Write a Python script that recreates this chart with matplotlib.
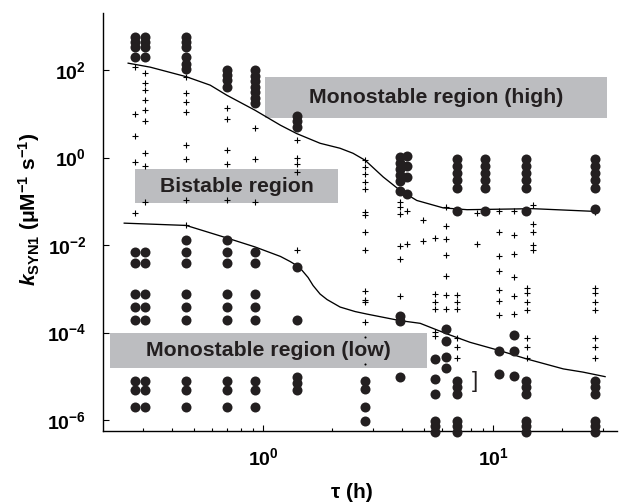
import numpy as np
import matplotlib
matplotlib.use("Agg")
import matplotlib.pyplot as plt
from matplotlib.ticker import LogLocator, NullLocator, NullFormatter
from matplotlib.patches import Rectangle

# fonts: Helvetica-like bold everywhere
plt.rcParams['font.family'] = ['Liberation Sans', 'DejaVu Sans']
plt.rcParams['font.weight'] = 'bold'
plt.rcParams['mathtext.fontset'] = 'custom'
plt.rcParams['mathtext.rm'] = 'Liberation Sans:bold'
plt.rcParams['mathtext.it'] = 'Liberation Sans:italic:bold'
plt.rcParams['mathtext.bf'] = 'Liberation Sans:bold'
plt.rcParams['mathtext.default'] = 'rm'

# --- data ---
# filled circles, column by column (tau in h, k in uM^-1 s^-1)
low_grid = [0.0069, 0.00387, 7.7e-4, 3.8e-4, 1.96e-4, 7.96e-6, 4.88e-6, 1.95e-6]
right_top = [0.916, 0.634, 0.438, 0.303, 0.199]
right_bot = [7.96e-6, 5.65e-6, 3.96e-6, 9.66e-7, 7.23e-7, 5.41e-7]

dot_cols_tau = [0.276, 0.307, 0.463, 0.695, 0.923, 1.40, 2.78, 3.94, 4.24,
                5.57, 6.25, 6.94, 9.26, 10.6, 12.3, 13.9, 27.8]
dot_cols_k = [
    [585, 450, 345, 199] + low_grid,
    [585, 450, 345, 199] + low_grid,
    [585, 450, 345, 199, 137, 105, 0.0128] + low_grid,
    [100, 76.8, 59.0, 41.5, 0.0128] + low_grid,
    [100, 74.8, 56.0, 41.9, 31.3, 23.5, 17.5] + low_grid,
    [8.85, 6.8, 4.95, 0.00313, 1.96e-4, 9.46e-6, 6.9e-6, 4.88e-6],
    [7.96e-6, 5.14e-6, 1.95e-6, 9.66e-7],
    [1.02, 0.741, 0.541, 0.394, 0.287, 0.169, 2.45e-4, 1.88e-4, 9.46e-6],
    [1.07, 0.634, 0.361, 0.150],
    [2.5e-5, 8.71e-6, 3.96e-6, 9.66e-7, 7.23e-7, 5.41e-7],
    [1.22e-4, 6.56e-5, 2.72e-5, 1.56e-5],
    right_top + [0.060] + right_bot,
    right_top + [0.060],
    [3.87e-5, 1.14e-5],
    [9.0e-5, 3.87e-5, 1.0e-5],
    right_top + [0.060] + right_bot,
    right_top + [0.068] + right_bot,
]

# plus marks, column by column
plus_cols_tau = [0.276, 0.307, 0.463, 0.695, 0.923, 1.40, 2.78, 3.94, 4.24,
                 4.95, 5.57, 6.25, 6.94, 8.50, 10.6, 12.3, 14.9, 14.1, 27.8]
right_plus = [1.02e-3, 8.25e-4, 4.94e-4, 3.37e-4, 7.69e-5, 4.79e-5, 2.64e-5]
plus_cols_k = [
    [119, 10.2, 3.08, 0.794, 0.0531],
    [84.0, 51.2, 36.1, 20.6, 12.6, 6.79, 1.28, 0.634, 0.0964],
    [70.4, 30.2, 18.8, 11.1, 1.92, 0.951, 0.105, 0.0293],
    [14.0, 7.55, 1.47, 0.730, 0.105],
    [4.88, 0.951, 0.0964],
    [2.49, 1.0, 0.703, 0.469, 0.00755],
    [0.869, 0.611, 0.416, 0.277, 0.195, 0.0569, 0.0491, 0.0198, 0.00783,
     8.83e-4, 5.6e-4, 4.9e-4, 1.74e-4],
    [0.0964, 0.0741, 0.0505, 0.00933, 0.00488, 7.05e-4],
    [0.060, 0.0107],
    [0.0367, 0.0123],
    [0.0148, 7.7e-4, 4.94e-4, 3.49e-4, 1.05e-4, 8.55e-5],
    [0.0729, 0.0278, 0.0140, 0.00581, 0.00199, 7.43e-4, 3.49e-4],
    [7.43e-4, 4.94e-4, 3.49e-4, 7.69e-5, 4.79e-5, 2.64e-5],
    [0.054, 0.0104],
    [0.059, 0.0198, 0.00551, 0.00257, 9.66e-4, 5.41e-4, 2.52e-4],
    [0.060, 0.0167, 0.00635, 0.00182, 7.05e-4, 2.65e-4],
    [0.0811, 0.0309, 0.0198, 0.00984, 0.00755],
    right_plus,
    [0.057] + right_plus,
]

# two tiny specks
speck_tau = [2.78, 2.78]
speck_k = [7.82e-5, 1.92e-5]

# boundary curves
upper_tau = [0.259, 0.323, 0.463, 0.589, 0.695, 0.923, 1.19, 1.40, 1.77, 2.16,
             2.46, 2.78, 3.33, 3.94, 4.66, 6.07, 7.71, 14.9, 27.8]
upper_k = [144.5, 117.2, 71.0, 45.4, 26.8, 12.1, 5.51, 3.55, 2.13, 1.64,
           1.26, 0.869, 0.361, 0.179, 0.105, 0.0710, 0.0646, 0.0681, 0.0590]
lower_tau = [0.249, 0.463, 0.695, 0.923, 1.19, 1.31, 1.40, 1.448, 1.569, 1.65,
             1.769, 1.897, 2.162, 2.512, 2.83, 3.94, 4.82, 6.30, 7.94, 10.7,
             14.0, 20.2, 24.6, 30.7]
lower_k = [0.0318, 0.0282, 0.0146, 0.00908, 0.00551, 0.00423, 0.00343,
           0.0030, 0.00182, 0.00119, 7.62e-4, 5.70e-4, 3.84e-4, 3.03e-4,
           2.65e-4, 1.88e-4, 1.63e-4, 9.35e-5, 6.0e-5, 3.87e-5, 2.50e-5,
           1.48e-5, 1.25e-5, 9.84e-6]

# grey region boxes: (tau_left, tau_right, k_low, k_high) and labels
box_high = (1.02, 31.3, 8.26, 70.3)
box_bi = (0.278, 2.12, 0.090, 0.541)
box_low = (0.216, 5.17, 1.58e-5, 1.0e-4)
box_texts = ['Monostable region (high)', 'Bistable region', 'Monostable region (low)']

yticks = [1e-6, 1e-4, 1e-2, 1, 1e2]
ytick_labels = ['$10^{-6}$', '$10^{-4}$', '$10^{-2}$', '$10^{0}$', '$10^{2}$']
xticks = [1, 10]
xtick_labels = ['$10^{0}$', '$10^{1}$']

fig = plt.figure(figsize=(6.29, 5.04), dpi=100)
ax = fig.add_axes([0.1638, 0.1448, 0.8172, 0.8288])
ax.set_xscale('log')
ax.set_yscale('log')
ax.set_xlim(0.2014, 34.6)
ax.set_ylim(10 ** -6.25, 10 ** 3.3)

grey = '#bcbdc0'
for b, txt in zip([box_high, box_bi, box_low], box_texts):
    ax.add_patch(Rectangle((b[0], b[2]), b[1] - b[0], b[3] - b[2],
                           facecolor=grey, edgecolor='none', zorder=1))
    ax.text(np.sqrt(b[0] * b[1]), np.sqrt(b[2] * b[3]), txt,
            ha='center', va='center', fontsize=15.3, fontweight='bold',
            color='#231f20', zorder=5)

ax.plot(upper_tau, upper_k, color='black', lw=0.95, zorder=2)
ax.plot(lower_tau, lower_k, color='black', lw=0.95, zorder=2)

for t, ks in zip(plus_cols_tau, plus_cols_k):
    ax.plot([t] * len(ks), ks, ls='none', marker='+', ms=4.6, mew=0.8,
            color='black', zorder=3, clip_on=False)
for t, ks in zip(dot_cols_tau, dot_cols_k):
    ax.plot([t] * len(ks), ks, ls='none', marker='o', ms=7.2, mew=0,
            color='#231f20', zorder=4, clip_on=False)
ax.plot(speck_tau, speck_k, ls='none', marker='o', ms=1.5, mew=0,
        color='black', zorder=4)

ax.text(8.35, 7.57e-6, ']', ha='center', va='center', fontsize=16,
        fontweight='normal', color='#231f20')

for side in ['top', 'right']:
    ax.spines[side].set_visible(False)
for side in ['left', 'bottom']:
    ax.spines[side].set_linewidth(1.0)

ax.set_yticks(yticks)
ax.set_yticklabels(ytick_labels)
ax.yaxis.set_minor_locator(NullLocator())
ax.set_xticks(xticks)
ax.set_xticklabels(xtick_labels)
ax.xaxis.set_minor_locator(LogLocator(base=10, subs=np.arange(2, 10)))
ax.xaxis.set_minor_formatter(NullFormatter())
ax.tick_params(which='major', direction='in', length=4, width=0.8,
               labelsize=14, pad=12)
ax.tick_params(which='minor', direction='in', length=2, width=0.8)

ax.set_xlabel('τ (h)', fontsize=15, fontweight='bold')
ax.xaxis.set_label_coords(0.484, -0.125)
ax.set_ylabel(r'$\mathit{k}_{\mathrm{SYN1}}$ (μM$^{-1}$ s$^{-1}$)',
              fontsize=15, fontweight='bold')
ax.yaxis.set_label_coords(-0.118, 0.53)

fig.savefig('out.png', dpi=100)
